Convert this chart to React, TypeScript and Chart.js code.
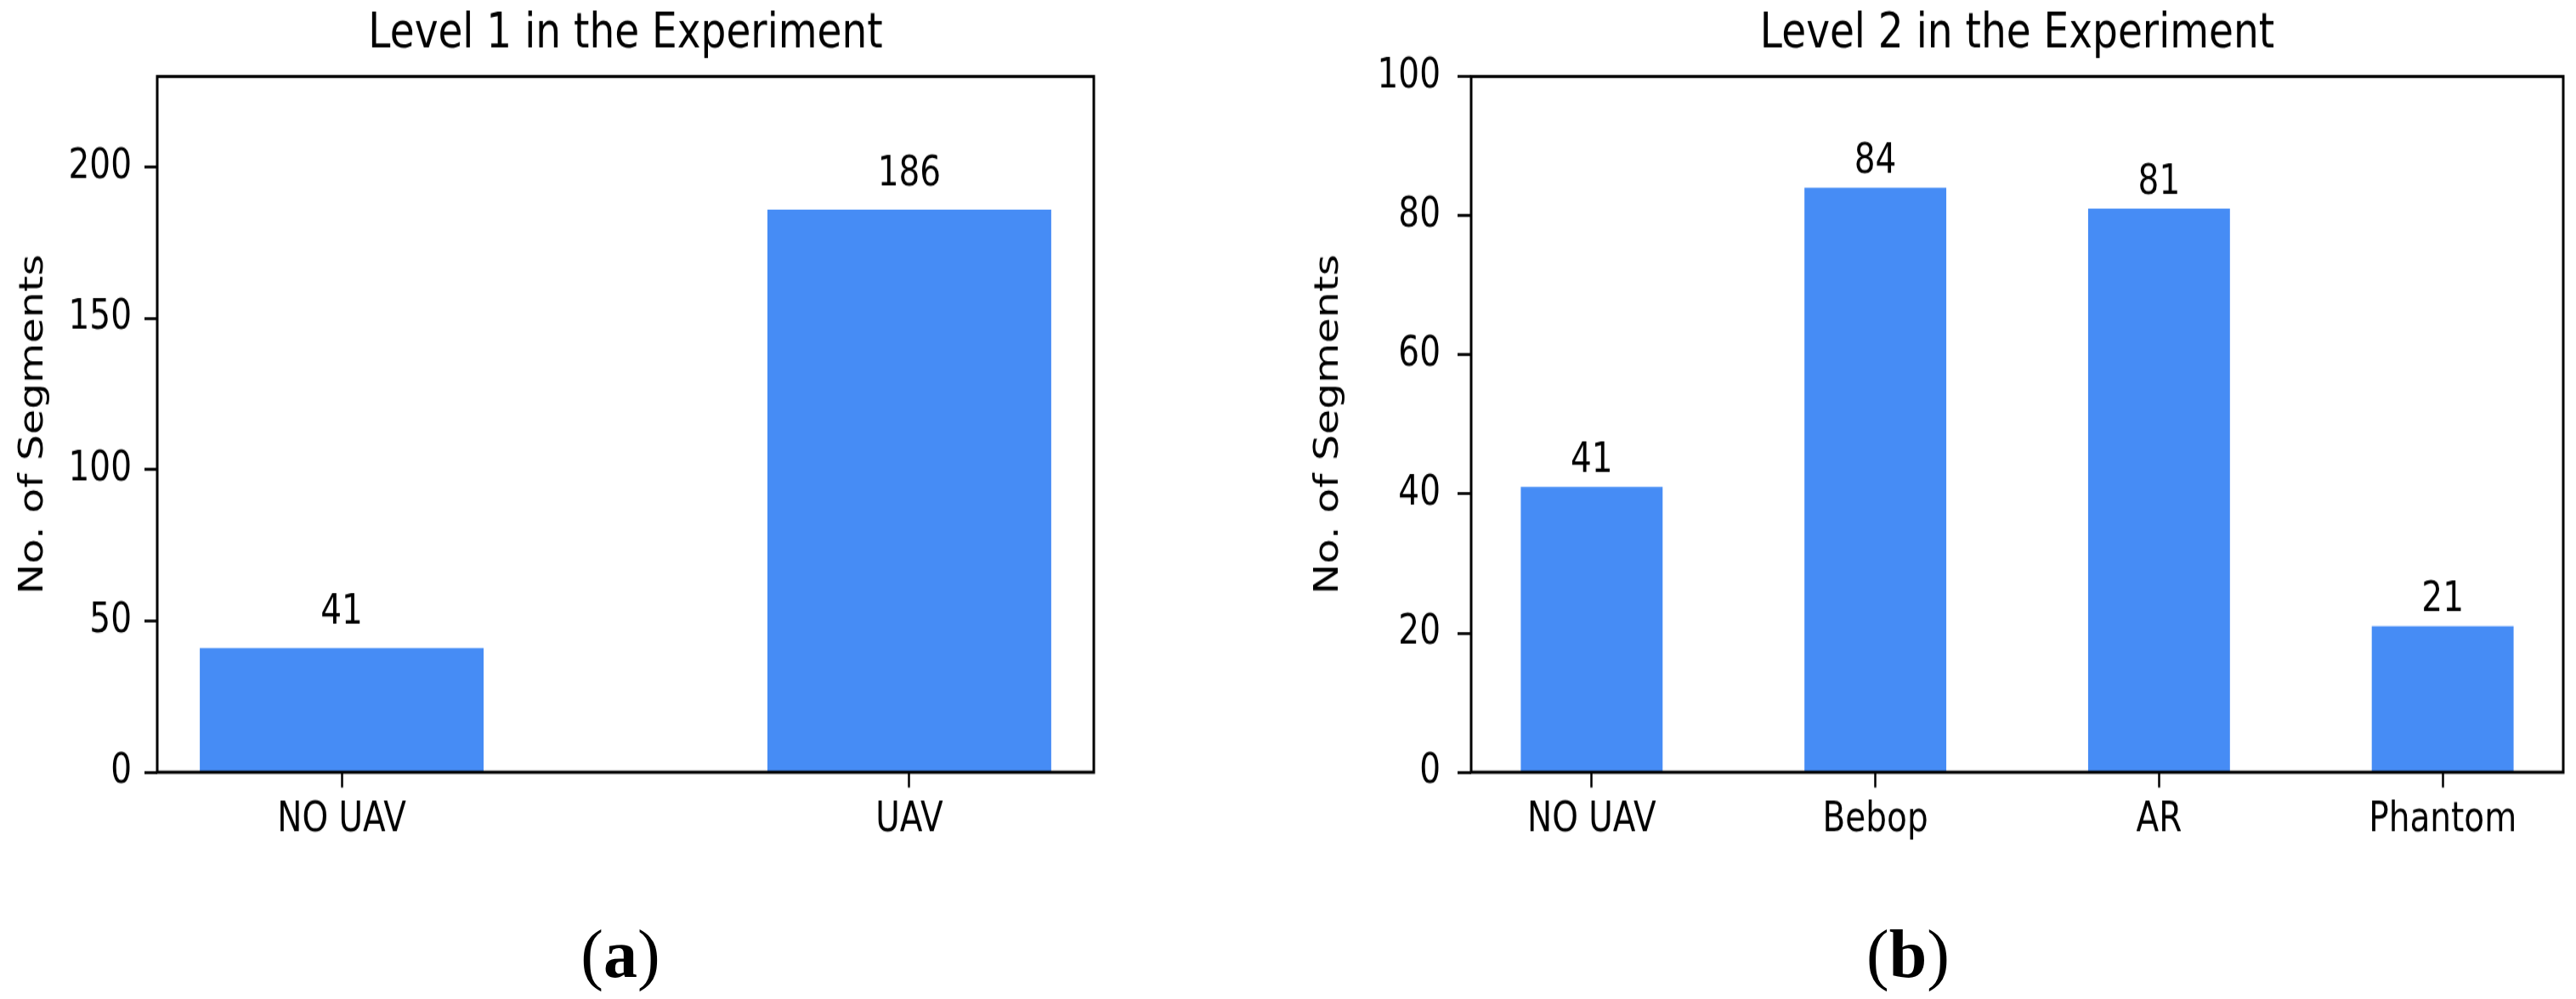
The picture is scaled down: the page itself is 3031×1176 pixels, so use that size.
import { useEffect, useRef } from "react";
import { Chart, registerables } from "chart.js";

Chart.register(...registerables);

// ---- data ----
const categoriesA = ["NO UAV", "UAV"];
const valuesA = [41, 186];
const yTicksA = [0, 50, 100, 150, 200];

const categoriesB = ["NO UAV", "Bebop", "AR", "Phantom"];
const valuesB = [41, 84, 81, 21];
const yTicksB = [0, 20, 40, 60, 80, 100];

const titleA = "Level 1 in the Experiment";
const titleB = "Level 2 in the Experiment";
const yLabel = "No. of Segments";

// ---- style ----
const S = 1.24; // vertical stretch of the original raster
const FONT = "'DejaVu Sans', sans-serif";
const BAR = "#468cf5";
const H = 830; // canvas height in canvas units
const PLOT_BOTTOM = 733.1;

type PanelProps = {
  left: number;
  width: number;
  categories: string[];
  values: number[];
  yTicks: number[];
  title: string;
  yMax: number;
  xMin: number;
  xMax: number;
  yAxisWidth: number;
  rightPad: number;
  yTitlePad: number;
  yTickPad: number;
  yTickLen: number;
  labelGap: number;
};

function Panel(p: PanelProps) {
  const ref = useRef<HTMLCanvasElement>(null);
  useEffect(() => {
    const canvas = ref.current!;
    const boxPlugin = {
      id: "box",
      afterDraw(chart: any) {
        const { left, top, right, bottom } = chart.chartArea;
        const ctx = chart.ctx;
        ctx.save();
        ctx.strokeStyle = "#000";
        ctx.lineWidth = 3;
        ctx.strokeRect(left, top, right - left, bottom - top);
        ctx.restore();
      },
    };
    const labelPlugin = {
      id: "vlabels",
      afterDatasetsDraw(chart: any) {
        const ctx = chart.ctx;
        const meta = chart.getDatasetMeta(0);
        ctx.save();
        ctx.font = `39px ${FONT}`;
        ctx.fillStyle = "#000";
        ctx.textAlign = "center";
        ctx.textBaseline = "alphabetic";
        meta.data.forEach((bar: any, i: number) => {
          ctx.fillText(String(p.values[i]), bar.x, bar.y - p.labelGap);
        });
        ctx.restore();
      },
    };
    const chart = new Chart(canvas, {
      type: "bar",
      data: {
        datasets: [
          {
            data: p.values.map((v, i) => ({ x: i, y: v })),
            backgroundColor: BAR,
            borderWidth: 0,
            barPercentage: 0.5,
            categoryPercentage: 1,
          } as any,
        ],
      },
      options: {
        animation: false,
        responsive: false,
        devicePixelRatio: 1,
        layout: { padding: { left: 0, top: 0, right: p.rightPad, bottom: 0 } },
        plugins: {
          legend: { display: false },
          tooltip: { enabled: false },
          title: {
            display: true,
            text: p.title,
            fullSize: false,
            color: "#000",
            font: { family: FONT, size: 47, weight: "normal", lineHeight: 1.2 },
            padding: { top: 4.7, bottom: 11.5 },
          },
        },
        scales: {
          x: {
            type: "linear",
            min: p.xMin,
            max: p.xMax,
            offset: false,
            bounds: "data",
            afterBuildTicks: (s: any) => {
              s.ticks = p.categories.map((_, i) => ({ value: i }));
            },
            afterFit: (s: any) => {
              s.height = H - PLOT_BOTTOM;
            },
            grid: {
              offset: false,
              drawOnChartArea: false,
              drawTicks: true,
              tickLength: 14.5,
              tickWidth: 2.5,
              tickColor: "#000",
              color: "#000",
            },
            border: { display: false },
            ticks: {
              color: "#000",
              font: { family: FONT, size: 39 },
              padding: 7.6,
              maxRotation: 0,
              autoSkip: false,
              callback: (v: any) => p.categories[v] ?? "",
            },
          },
          y: {
            type: "linear",
            min: 0,
            max: p.yMax,
            bounds: "data",
            afterBuildTicks: (s: any) => {
              s.ticks = p.yTicks.map((v) => ({ value: v }));
            },
            afterFit: (s: any) => {
              s.width = p.yAxisWidth;
            },
            grid: {
              drawOnChartArea: false,
              drawTicks: true,
              tickLength: p.yTickLen,
              tickWidth: 2.7,
              tickColor: "#000",
              color: "#000",
            },
            border: { display: false },
            title: {
              display: true,
              text: yLabel,
              color: "#000",
              font: { family: FONT, size: 39, lineHeight: 1.2 },
              padding: { top: p.yTitlePad, bottom: 0 },
            },
            ticks: {
              color: "#000",
              font: { family: FONT, size: 39 },
              padding: p.yTickPad,
              autoSkip: false,
              callback: (v: any) => String(v),
            },
          },
        },
      } as any,
      plugins: [boxPlugin, labelPlugin],
    });
    return () => chart.destroy();
  }, []);
  return (
    <div
      style={{
        position: "absolute",
        left: p.left,
        top: 0,
        width: p.width,
        height: H,
        transform: `scaleY(${S})`,
        transformOrigin: "0 0",
      }}
    >
      <canvas
        ref={ref}
        width={p.width}
        height={H}
        style={{ display: "block", width: p.width, height: H }}
      />
    </div>
  );
}

const captionStyle = (cx: number): any => ({
  position: "absolute",
  left: cx,
  top: 1083,
  transform: "translateX(-50%)",
  fontFamily: "'Liberation Serif', 'Times New Roman', serif",
  fontSize: 80,
  lineHeight: "80px",
  whiteSpace: "nowrap",
  color: "#000",
});

export default function App() {
  return (
    <div
      style={{
        position: "absolute",
        left: 0,
        top: 0,
        width: 3031,
        height: 1176,
        overflow: "hidden",
        background: "#fff",
      }}
    >
      <Panel
        left={0}
        width={1472}
        categories={categoriesA}
        values={valuesA}
        yTicks={yTicksA}
        title={titleA}
        yMax={230}
        xMin={-0.325}
        xMax={1.325}
        yAxisWidth={185}
        rightPad={185}
        yTitlePad={16}
        yTickPad={15}
        yTickLen={15}
        labelGap={23}
      />
      <Panel
        left={1500}
        width={1531}
        categories={categoriesB}
        values={valuesB}
        yTicks={yTicksB}
        title={titleB}
        yMax={100}
        xMin={-0.425}
        xMax={3.425}
        yAxisWidth={231}
        rightPad={15}
        yTitlePad={40}
        yTickPad={20}
        yTickLen={16}
        labelGap={14}
      />
      <div style={captionStyle(730)}>
        (<b>a</b>)
      </div>
      <div style={captionStyle(2245)}>
        (<b>b</b>)
      </div>
    </div>
  );
}
